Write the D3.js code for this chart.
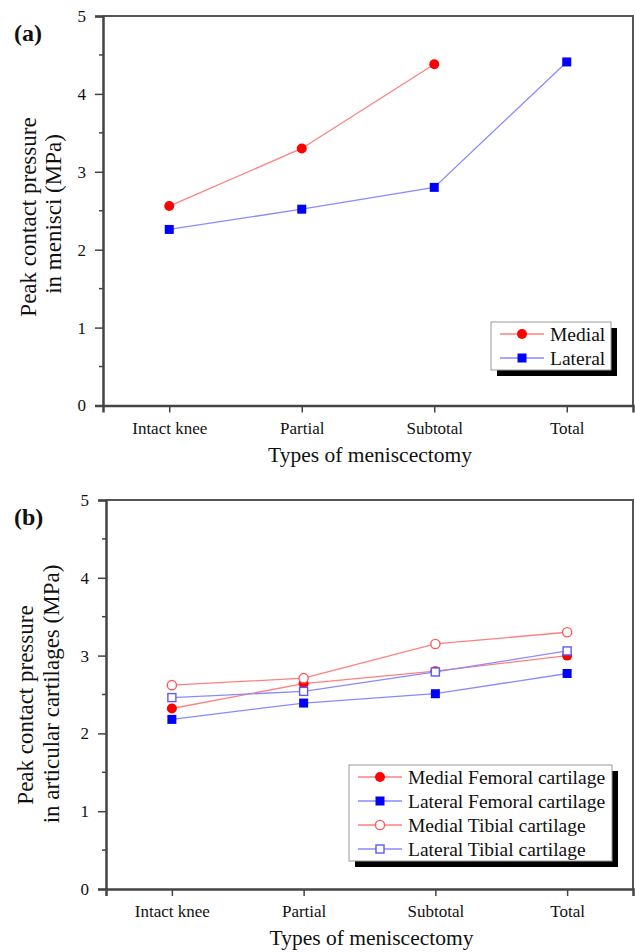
<!DOCTYPE html>
<html>
<head>
<meta charset="utf-8">
<script src="https://cdn.jsdelivr.net/npm/d3@7"></script>
<style>
  body { margin: 0; background: #fff; }
  svg text { font-family: "Liberation Serif", "Times New Roman", serif; fill: #111; }
</style>
</head>
<body>
<div id="chart"></div>
<script>
var categories = ["Intact knee", "Partial", "Subtotal", "Total"];
var yTicks = [0, 1, 2, 3, 4, 5];
var yMinorTicks = [0.5, 1.5, 2.5, 3.5, 4.5];

// panel (a) menisci
var menisciMedial  = [2.56, 3.30, 4.38, null];
var menisciLateral = [2.26, 2.52, 2.80, 4.41];

// panel (b) articular cartilages
var femoralMedial  = [2.32, 2.64, 2.80, 3.00];
var femoralLateral = [2.18, 2.39, 2.51, 2.77];
var tibialMedial   = [2.62, 2.71, 3.15, 3.30];
var tibialLateral  = [2.46, 2.54, 2.79, 3.06];

var red = "#ff0000", blue = "#0000ff";
var redLine = "#ff8080", blueLine = "#8a8aff";

var svg = d3.select("#chart").append("svg")
            .attr("width", 635)
            .attr("height", 952);

function drawPanel(p){

    var x = d3.scaleLinear().domain([0.5, 4.5]).range([p.left, p.right]);
    var y = d3.scaleLinear().domain([0, 5]).range([p.bottom, p.top]);

    var g = svg.append("g");

    // frame (top / right)
    g.append("path")
     .attr("d", "M" + p.left + "," + p.top + "H" + p.right + "V" + p.bottom)
     .attr("fill", "none")
     .attr("stroke", "#555")
     .attr("stroke-width", 2);

    // y axis
    var yAxis = d3.axisLeft(y).tickValues(yTicks).tickSize(8).tickPadding(9)
                  .tickFormat(d3.format("d"));
    var ya = g.append("g")
              .attr("transform", "translate(" + p.left + ",0)")
              .call(yAxis);
    ya.select(".domain").attr("stroke", "#444").attr("stroke-width", 2.5);
    ya.selectAll(".tick line").attr("stroke", "#444").attr("stroke-width", 1.5);
    ya.selectAll(".tick text").style("font-size", "17px")
      .style("font-family", "Liberation Serif").attr("fill", "#111");

    g.selectAll(".minor").data(yMinorTicks).enter().append("line")
     .attr("x1", p.left - 4).attr("x2", p.left)
     .attr("y1", d => y(d)).attr("y2", d => y(d))
     .attr("stroke", "#444").attr("stroke-width", 1.5);

    // x axis
    var xAxis = d3.axisBottom(x).tickValues([1, 2, 3, 4]).tickSize(7).tickPadding(9)
                  .tickFormat(d => categories[d - 1]);
    var xa = g.append("g")
              .attr("transform", "translate(0," + p.bottom + ")")
              .call(xAxis);
    xa.select(".domain").attr("stroke", "#444").attr("stroke-width", 2.5);
    xa.selectAll(".tick line").attr("stroke", "#444").attr("stroke-width", 1.5);
    xa.selectAll(".tick text").style("font-size", "17px")
      .style("font-family", "Liberation Serif").attr("fill", "#111");

    // axis titles
    g.append("text")
     .attr("x", (p.left + p.right) / 2 + 2)
     .attr("y", p.bottom + 56)
     .attr("text-anchor", "middle")
     .style("font-size", "21.5px")
     .text("Types of meniscectomy");

    p.yTitle.forEach(function(t, i){
        g.append("text")
         .attr("transform", "translate(" + p.yTitleX[i] + "," + p.yTitleY[i] + ") rotate(-90)")
         .attr("text-anchor", "middle")
         .style("font-size", "23px")
         .text(t);
    });

    g.append("text")
     .attr("x", 14).attr("y", p.top + 25)
     .style("font-size", "24px")
     .style("font-weight", "bold")
     .text(p.tag);

    // series
    var line = d3.line()
                 .defined(d => d != null)
                 .x((d, i) => x(i + 1))
                 .y(d => y(d));

    p.series.forEach(function(s){
        g.append("path")
         .datum(s.values)
         .attr("d", line)
         .attr("fill", "none")
         .attr("stroke", s.line)
         .attr("stroke-width", 1.3);

        var pts = s.values.map((v, i) => ({v: v, i: i})).filter(d => d.v != null);
        pts.forEach(function(d){
            drawMarker(g, s, x(d.i + 1), y(d.v));
        });
    });

    // legend
    var L = p.legend;
    var rowH = 24;
    var lh = rowH * p.series.length;
    g.append("rect")
     .attr("x", L.x + 6).attr("y", L.y + 6)
     .attr("width", L.w).attr("height", lh)
     .attr("fill", "#000");
    g.append("rect")
     .attr("x", L.x).attr("y", L.y)
     .attr("width", L.w).attr("height", lh)
     .attr("fill", "#fff")
     .attr("stroke", "#999")
     .attr("stroke-width", 1);

    p.series.forEach(function(s, i){
        var ry = L.y + rowH * i + rowH / 2;
        g.append("line")
         .attr("x1", L.x + 9).attr("x2", L.x + 53)
         .attr("y1", ry).attr("y2", ry)
         .attr("stroke", s.line).attr("stroke-width", 1.3);
        drawMarker(g, s, L.x + 31, ry);
        g.append("text")
         .attr("x", L.x + 59).attr("y", ry + 6.5)
         .style("font-size", "19.5px")
         .text(s.name);
    });
}

function drawMarker(g, s, cx, cy){
    if (s.shape === "circle") {
        g.append("circle")
         .attr("cx", cx).attr("cy", cy).attr("r", s.open ? 4.6 : 5)
         .attr("fill", s.open ? "#fff" : s.color)
         .attr("stroke", s.open ? s.stroke : "none")
         .attr("stroke-width", 1.4);
    } else {
        var a = s.open ? 8 : 9;
        g.append("rect")
         .attr("x", cx - a / 2).attr("y", cy - a / 2)
         .attr("width", a).attr("height", a)
         .attr("fill", s.open ? "#fff" : s.color)
         .attr("stroke", s.open ? s.stroke : "none")
         .attr("stroke-width", 1.4);
    }
}

drawPanel({
    tag: "(a)",
    left: 103, right: 633, top: 16, bottom: 405.5,
    yTitle: ["Peak contact pressure", "in menisci (MPa)"],
    yTitleX: [36, 61],
    yTitleY: [217, 214],
    series: [
        {name: "Medial",  values: menisciMedial,  shape: "circle", color: red,  line: redLine},
        {name: "Lateral", values: menisciLateral, shape: "square", color: blue, line: blueLine}
    ],
    legend: {x: 491, y: 322, w: 120}
});

drawPanel({
    tag: "(b)",
    left: 106, right: 633, top: 500, bottom: 889,
    yTitle: ["Peak contact pressure", "in articular cartilages (MPa)"],
    yTitleX: [33, 59],
    yTitleY: [705, 694],
    series: [
        {name: "Medial Femoral cartilage",  values: femoralMedial,  shape: "circle", color: red,  line: redLine},
        {name: "Lateral Femoral cartilage", values: femoralLateral, shape: "square", color: blue, line: blueLine},
        {name: "Medial Tibial cartilage",   values: tibialMedial,   shape: "circle", open: true, stroke: "#ff5a5a", line: redLine},
        {name: "Lateral Tibial cartilage",  values: tibialLateral,  shape: "square", open: true, stroke: "#5a5aff", line: blueLine}
    ],
    legend: {x: 349, y: 765, w: 263}
});
</script>
</body>
</html>
